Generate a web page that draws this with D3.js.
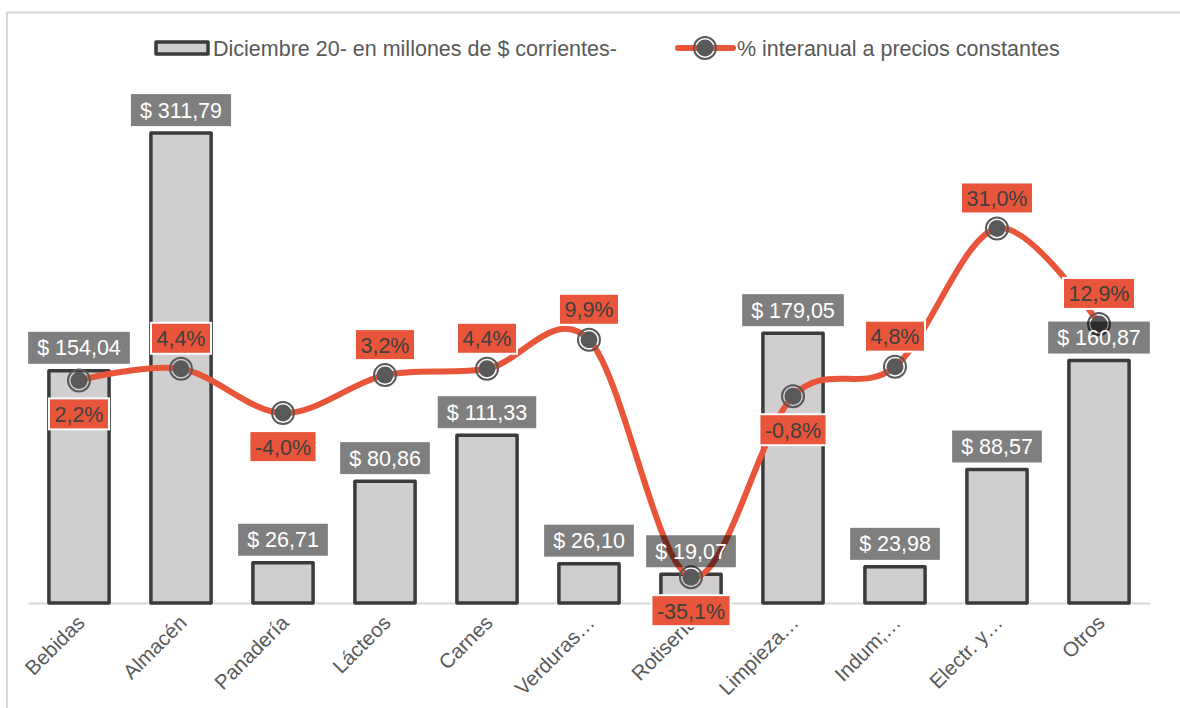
<!DOCTYPE html>
<html>
<head>
<meta charset="utf-8">
<script src="https://cdn.jsdelivr.net/npm/d3@7"></script>
<style>
  html, body { margin: 0; padding: 0; background: #ffffff; }
  svg { display: block; font-family: "Liberation Sans", Arial, sans-serif; }
</style>
</head>
<body>
<svg id="chart" width="1180" height="708"></svg>
<script>
// ---- data ----
const categories = ["Bebidas", "Almacén", "Panadería", "Lácteos", "Carnes", "Verduras…", "Rotisería", "Limpieza…", "Indum;…", "Electr. y…", "Otros"];
const salesValues = [154.04, 311.79, 26.71, 80.86, 111.33, 26.10, 19.07, 179.05, 23.98, 88.57, 160.87];
const salesLabels = ["$ 154,04", "$ 311,79", "$ 26,71", "$ 80,86", "$ 111,33", "$ 26,10", "$ 19,07", "$ 179,05", "$ 23,98", "$ 88,57", "$ 160,87"];
const pctValues = [2.2, 4.4, -4.0, 3.2, 4.4, 9.9, -35.1, -0.8, 4.8, 31.0, 12.9];
const pctLabels = ["2,2%", "4,4%", "-4,0%", "3,2%", "4,4%", "9,9%", "-35,1%", "-0,8%", "4,8%", "31,0%", "12,9%"];
const pctLabelSide = ["below", "above", "below", "above", "above", "above", "below", "below", "above", "above", "above"];
const seriesNames = ["Diciembre 20- en millones de $ corrientes-", "% interanual a precios constantes"];

// ---- styles ----
const barFill = "#d0cece", barStroke = "#3b3b3b", lineColor = "#e9553a", textColor = "#595959";
const fontSize = 21.5;
const svg = d3.select("#chart");

// frame
svg.append("path").attr("d", "M7,708 V12.5 H1180").attr("fill", "none").attr("stroke", "#d9d9d9").attr("stroke-width", 2);

const x = d3.scaleBand().domain(categories).range([28, 1150]).paddingInner(0.41).paddingOuter(0.205);
const y = d3.scaleLinear().domain([0, 350]).range([603, 75.5]);
const y2 = d3.scaleLinear().domain([-40, 60]).range([603, 75.5]);
const cx = c => x(c) + x.bandwidth() / 2;

// baseline axis
const xAxis = d3.axisBottom(x).tickSize(0).tickPadding(0);
const ax = svg.append("g").attr("transform", "translate(0,603)").call(xAxis);
ax.select(".domain").attr("stroke", "#d9d9d9").attr("stroke-width", 2);
ax.selectAll(".tick text")
  .attr("fill", textColor).attr("font-size", 20.5)
  .attr("text-anchor", "end")
  .attr("dy", 0).attr("y", 0)
  .attr("transform", "translate(7,21) rotate(-45)");

// bars
svg.append("g").selectAll("rect").data(categories).join("rect")
  .attr("x", c => x(c))
  .attr("width", x.bandwidth())
  .attr("y", (c, i) => y(salesValues[i]))
  .attr("height", (c, i) => y(0) - y(salesValues[i]))
  .attr("fill", barFill).attr("stroke", barStroke).attr("stroke-width", 3.5).attr("stroke-linejoin", "round");

// line
const line = d3.line().x((d, i) => cx(categories[i])).y(d => y2(d)).curve(d3.curveCardinal.tension(0));
svg.append("path").datum(pctValues).attr("d", line)
  .attr("fill", "none").attr("stroke", lineColor).attr("stroke-width", 6).attr("stroke-linecap", "round");

function marker(g, px, py) {
  g.append("circle").attr("cx", px).attr("cy", py).attr("r", 8.5).attr("fill", "#595959");
  g.append("circle").attr("cx", px).attr("cy", py).attr("r", 11).attr("fill", "none").attr("stroke", "#595959").attr("stroke-width", 2);
}
const mg = svg.append("g");
pctValues.forEach((v, i) => marker(mg, cx(categories[i]), y2(v)));

// bar labels (semi-transparent dark boxes)
const bl = svg.append("g");
salesValues.forEach((v, i) => {
  const g = bl.append("g");
  const t = g.append("text").text(salesLabels[i])
    .attr("x", cx(categories[i])).attr("y", y(v) - 7 - 8.5)
    .attr("text-anchor", "middle").attr("font-size", fontSize).attr("fill", "#ffffff");
  const w = t.node().getComputedTextLength() + 18;
  g.insert("rect", "text")
    .attr("x", cx(categories[i]) - w / 2).attr("y", y(v) - 7 - 32)
    .attr("width", w).attr("height", 32)
    .attr("fill", "#000000").attr("fill-opacity", 0.5);
});

// line labels
const ll = svg.append("g");
pctValues.forEach((v, i) => {
  const g = ll.append("g");
  const py = y2(v);
  const top = pctLabelSide[i] === "above" ? py - 15 - 31 : py + 18;
  const t = g.append("text").text(pctLabels[i])
    .attr("x", cx(categories[i])).attr("y", top + 23.5)
    .attr("text-anchor", "middle").attr("font-size", fontSize).attr("fill", "#404040");
  const w = t.node().getComputedTextLength() + 11;
  g.insert("rect", "text")
    .attr("x", cx(categories[i]) - w / 2).attr("y", top)
    .attr("width", w).attr("height", 31)
    .attr("fill", lineColor).attr("stroke", "#ffffff").attr("stroke-width", 2);
});

// legend
const lg = svg.append("g");
lg.append("rect").attr("x", 156).attr("y", 42).attr("width", 52).attr("height", 12)
  .attr("fill", barFill).attr("stroke", barStroke).attr("stroke-width", 3.5).attr("stroke-linejoin", "round");
lg.append("text").attr("x", 213).attr("y", 56).attr("font-size", fontSize).attr("fill", textColor).text(seriesNames[0]);
lg.append("line").attr("x1", 678).attr("x2", 733).attr("y1", 48).attr("y2", 48)
  .attr("stroke", lineColor).attr("stroke-width", 6).attr("stroke-linecap", "round");
marker(lg, 705, 48);
lg.append("text").attr("x", 737).attr("y", 56).attr("font-size", fontSize).attr("fill", textColor).text(seriesNames[1]);
</script>
</body>
</html>
